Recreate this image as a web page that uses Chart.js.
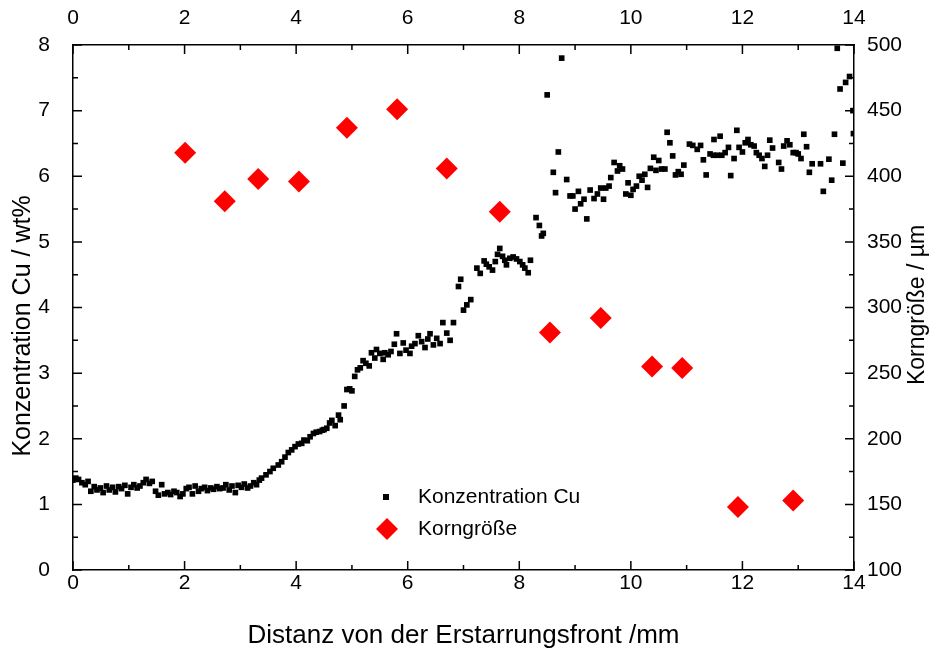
<!DOCTYPE html>
<html>
<head>
<meta charset="utf-8">
<script src="https://cdn.jsdelivr.net/npm/chart.js@4/dist/chart.umd.min.js"></script>
<style>
  body { margin: 0; background: #fff; }
  canvas { display: block; }
</style>
</head>
<body>
<canvas id="myChart" width="939" height="654"></canvas>
<script>
// Konzentration Cu (wt%) ueber Distanz (mm)
const cuX = [
  0.00, 0.05, 0.10, 0.16, 0.22, 0.27, 0.32, 0.38, 0.43, 0.49, 0.54, 0.60, 0.65, 0.71, 0.76, 0.82, 0.87, 0.93, 0.98,
  1.04, 1.09, 1.15, 1.20, 1.26, 1.31, 1.37, 1.42, 1.48, 1.53, 1.59, 1.64, 1.70, 1.75, 1.81, 1.86, 1.92, 1.97,
  2.03, 2.08, 2.14, 2.19, 2.25, 2.30, 2.36, 2.41, 2.47, 2.52, 2.58, 2.63, 2.69, 2.74, 2.80, 2.85, 2.91, 2.96,
  3.02, 3.07, 3.13, 3.18, 3.24, 3.29, 3.34, 3.38, 3.46, 3.53, 3.59, 3.68, 3.74, 3.80, 3.86, 3.92, 3.98,
  4.04, 4.10, 4.14, 4.20, 4.25, 4.31, 4.36, 4.42, 4.47, 4.50, 4.55, 4.60, 4.64, 4.70, 4.76, 4.79, 4.86, 4.91, 4.96,
  5.00, 5.05, 5.10, 5.15, 5.20, 5.25, 5.31, 5.35, 5.41, 5.44, 5.50, 5.56, 5.59, 5.65, 5.70, 5.76, 5.80, 5.86, 5.92, 5.97,
  6.04, 6.07, 6.13, 6.19, 6.25, 6.31, 6.36, 6.40, 6.46, 6.52, 6.58, 6.63, 6.70, 6.76, 6.82, 6.91, 6.95,
  7.00, 7.06, 7.13, 7.24, 7.30, 7.37, 7.41, 7.46, 7.52, 7.57, 7.61, 7.65, 7.70, 7.74, 7.77, 7.83, 7.89, 7.95,
  8.01, 8.06, 8.10, 8.16, 8.20, 8.30, 8.36, 8.40, 8.43, 8.50, 8.61, 8.65, 8.70, 8.76, 8.85, 8.91, 8.96,
  9.00, 9.06, 9.10, 9.16, 9.21, 9.27, 9.34, 9.40, 9.46, 9.51, 9.55, 9.61, 9.64, 9.70, 9.76, 9.80, 9.85, 9.91, 9.95,
  10.00, 10.04, 10.10, 10.15, 10.20, 10.25, 10.30, 10.35, 10.41, 10.45, 10.50, 10.55, 10.61, 10.65, 10.70, 10.75, 10.80, 10.85, 10.90, 10.95,
  11.05, 11.11, 11.19, 11.25, 11.30, 11.35, 11.42, 11.48, 11.49, 11.55, 11.60, 11.63, 11.69, 11.75, 11.79, 11.85, 11.90, 11.94,
  12.00, 12.05, 12.10, 12.15, 12.21, 12.25, 12.30, 12.35, 12.40, 12.45, 12.49, 12.54, 12.65, 12.70, 12.74, 12.80, 12.85, 12.91, 12.96,
  13.00, 13.05, 13.10, 13.15, 13.20, 13.25, 13.40, 13.45, 13.55, 13.60, 13.65, 13.70, 13.75, 13.80, 13.85, 13.92, 13.98, 13.99
];
const cuY = [
  1.37, 1.40, 1.38, 1.33, 1.30, 1.35, 1.20, 1.27, 1.22, 1.25, 1.18, 1.28, 1.22, 1.26, 1.19, 1.27, 1.24, 1.29, 1.16,
  1.26, 1.30, 1.25, 1.28, 1.33, 1.38, 1.32, 1.35, 1.20, 1.14, 1.30, 1.16, 1.18, 1.15, 1.20, 1.18, 1.12, 1.16,
  1.24, 1.26, 1.16, 1.28, 1.20, 1.24, 1.26, 1.21, 1.25, 1.23, 1.27, 1.24, 1.25, 1.30, 1.22, 1.28, 1.18, 1.29,
  1.26, 1.31, 1.25, 1.28, 1.33, 1.30, 1.37, 1.40, 1.45, 1.50, 1.55, 1.60, 1.65, 1.72, 1.79, 1.83, 1.88,
  1.92, 1.93, 1.98, 1.97, 2.03, 2.08, 2.10, 2.11, 2.13, 2.14, 2.16, 2.24, 2.28, 2.20, 2.36, 2.29, 2.50, 2.75, 2.76,
  2.73, 2.95, 3.05, 3.08, 3.19, 3.15, 3.11, 3.31, 3.23, 3.36, 3.30, 3.21, 3.31, 3.28, 3.33, 3.44, 3.60, 3.30, 3.46, 3.35,
  3.30, 3.41, 3.45, 3.57, 3.48, 3.39, 3.52, 3.60, 3.43, 3.53, 3.45, 3.77, 3.61, 3.50, 3.77, 4.32, 4.43,
  3.96, 4.04, 4.12, 4.60, 4.52, 4.71, 4.66, 4.62, 4.57, 4.70, 4.81, 4.90, 4.78, 4.72, 4.65, 4.75, 4.77, 4.74,
  4.70, 4.65, 4.60, 4.53, 4.72, 5.37, 5.25, 5.09, 5.13, 7.24, 6.06, 5.75, 6.37, 7.80, 5.95, 5.70, 5.70,
  5.50, 5.77, 5.58, 5.65, 5.35, 5.79, 5.66, 5.73, 5.82, 5.65, 5.82, 5.85, 5.98, 6.21, 6.08, 6.16, 6.11, 5.73, 5.90,
  5.71, 5.80, 5.85, 6.00, 5.94, 6.03, 5.83, 6.12, 6.29, 6.09, 6.24, 6.11, 6.11, 6.67, 6.51, 6.31, 6.02, 6.07, 6.03, 6.17,
  6.49, 6.47, 6.41, 6.47, 6.25, 6.02, 6.34, 6.32, 6.56, 6.32, 6.61, 6.32, 6.36, 6.44, 6.01, 6.27, 6.70, 6.44,
  6.37, 6.51, 6.56, 6.48, 6.46, 6.36, 6.32, 6.27, 6.15, 6.32, 6.55, 6.43, 6.21, 6.11, 6.46, 6.54, 6.48, 6.36, 6.36,
  6.34, 6.27, 6.64, 6.45, 6.06, 6.19, 6.19, 5.77, 6.26, 5.94, 6.64, 7.95, 7.33, 6.20, 7.43, 7.52, 7.00, 6.65
];

// Korngroesse (um) ueber Distanz (mm)
const grainX = [2.01, 2.72, 3.32, 4.05, 4.91, 5.81, 6.70, 7.65, 8.55, 9.46, 10.38, 10.92, 11.92, 12.91];
const grainY = [418, 381, 398, 396, 437, 451, 406, 373, 281, 292, 255, 254, 148, 153];

const seriesNames = ["Konzentration Cu", "Korngröße"];
const xTitle = "Distanz von der Erstarrungsfront /mm";
const yTitle = "Konzentration Cu / wt%";
const y2Title = "Korngröße / µm";

const FONT = "'Liberation Sans', Arial, sans-serif";

// Ticks nach innen, Legende und Achsentitel links/rechts
const extras = {
  id: "extras",
  afterDraw(chart) {
    const { ctx, chartArea: a, scales } = chart;
    ctx.save();
    ctx.strokeStyle = "#000";
    ctx.lineWidth = 1.5;
    ctx.beginPath();
    for (let v = 0; v <= 14; v++) {
      const len = v % 2 === 0 ? 9 : 5;
      const px = scales.x.getPixelForValue(v);
      ctx.moveTo(px, a.bottom);
      ctx.lineTo(px, a.bottom - len);
      const pt = scales.x2.getPixelForValue(v);
      ctx.moveTo(pt, a.top);
      ctx.lineTo(pt, a.top + len);
    }
    for (let v = 0; v <= 8; v += 0.5) {
      const len = v % 1 === 0 ? 9 : 5;
      const py = scales.y.getPixelForValue(v);
      ctx.moveTo(a.left, py);
      ctx.lineTo(a.left + len, py);
    }
    for (let v = 100; v <= 500; v += 25) {
      const len = v % 50 === 0 ? 9 : 5;
      const py = scales.y2.getPixelForValue(v);
      ctx.moveTo(a.right, py);
      ctx.lineTo(a.right - len, py);
    }
    ctx.stroke();

    // Legende
    ctx.fillStyle = "#000";
    ctx.fillRect(383, 494, 6, 6);
    ctx.fillStyle = "#ff0000";
    ctx.beginPath();
    ctx.moveTo(387, 518);
    ctx.lineTo(398, 529);
    ctx.lineTo(387, 540);
    ctx.lineTo(376, 529);
    ctx.closePath();
    ctx.fill();
    ctx.fillStyle = "#000";
    ctx.font = "21px " + FONT;
    ctx.textBaseline = "middle";
    ctx.textAlign = "left";
    ctx.fillText(seriesNames[0], 418, 497);
    ctx.fillText(seriesNames[1], 418, 529);

    // Achsentitel links
    ctx.textAlign = "center";
    ctx.save();
    ctx.translate(23, 326);
    ctx.rotate(-Math.PI / 2);
    ctx.font = "25px " + FONT;
    ctx.fillText(yTitle, 0, 0);
    ctx.restore();

    // Achsentitel rechts
    ctx.translate(918, 305);
    ctx.rotate(-Math.PI / 2);
    ctx.font = "23px " + FONT;
    ctx.fillText(y2Title, 0, 0);
    ctx.restore();
  },
};

const axisBase = {
  grid: { display: false, drawTicks: false },
  border: { display: true, color: "#000", width: 1.5 },
};

var ctx = document.getElementById("myChart").getContext("2d");
var myChart = new Chart(ctx, {
  type: "scatter",
  data: {
    datasets: [
      {
        label: seriesNames[0],
        data: cuX.map((x, i) => ({ x: x, y: cuY[i] })),
        xAxisID: "x",
        yAxisID: "y",
        pointStyle: "rect",
        pointRadius: 4,
        backgroundColor: "#000",
        borderWidth: 0,
      },
      {
        label: seriesNames[1],
        data: grainX.map((x, i) => ({ x: x, y: grainY[i] })),
        xAxisID: "x",
        yAxisID: "y2",
        pointStyle: "rectRot",
        pointRadius: 11,
        backgroundColor: "#ff0000",
        borderWidth: 0,
      },
    ],
  },
  options: {
    responsive: false,
    animation: false,
    devicePixelRatio: 1,
    layout: { padding: 0 },
    plugins: { legend: { display: false }, tooltip: { enabled: false } },
    scales: {
      x: {
        ...axisBase,
        type: "linear",
        position: "bottom",
        min: 0,
        max: 14,
        ticks: { stepSize: 2, padding: 1, color: "#000", font: { family: FONT, size: 21 } },
        title: { display: true, text: xTitle, color: "#000", font: { family: FONT, size: 26 }, padding: { top: 0, bottom: 3 } },
        afterFit: (s) => { s.height = 84; },
      },
      x2: {
        ...axisBase,
        type: "linear",
        position: "top",
        min: 0,
        max: 14,
        ticks: { stepSize: 2, padding: 14, color: "#000", font: { family: FONT, size: 21 } },
        afterFit: (s) => { s.height = 45; },
      },
      y: {
        ...axisBase,
        type: "linear",
        position: "left",
        min: 0,
        max: 8,
        ticks: { stepSize: 1, padding: 23, color: "#000", font: { family: FONT, size: 21 } },
        afterFit: (s) => { s.width = 73; },
      },
      y2: {
        ...axisBase,
        type: "linear",
        position: "right",
        min: 100,
        max: 500,
        ticks: { stepSize: 50, padding: 13, color: "#000", font: { family: FONT, size: 21 } },
        afterFit: (s) => { s.width = 85; },
      },
    },
  },
  plugins: [extras],
});
</script>
</body>
</html>
